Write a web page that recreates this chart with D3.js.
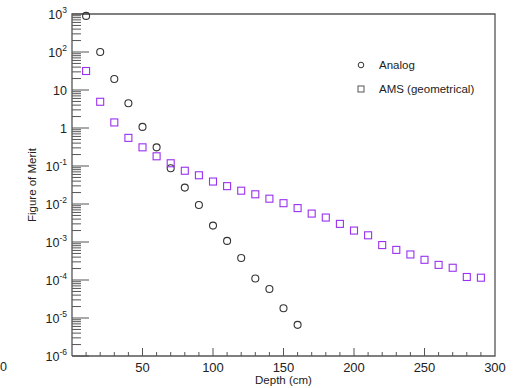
<!DOCTYPE html>
<html><head><meta charset="utf-8">
<script src="https://cdn.jsdelivr.net/npm/d3@7"></script>
<style>body{margin:0;background:#fff}svg{display:block}text{font-family:"Liberation Sans",Arial,sans-serif;fill:#222}</style>
</head><body><svg id="c" width="518" height="388"></svg>
<script>
const analogDepth = [10,20,30,40,50,60,70,80,90,100,110,120,130,140,150,160];
const analogFOM = [890,100,19.5,4.5,1.07,0.31,0.087,0.027,0.0094,0.0027,0.00107,0.00038,0.00011,5.8e-5,1.8e-5,6.6e-6];
const amsDepth = [10,20,30,40,50,60,70,80,90,100,110,120,130,140,150,160,170,180,190,200,210,220,230,240,250,260,270,280,290];
const amsFOM = [31.6,4.9,1.4,0.55,0.31,0.18,0.118,0.075,0.057,0.039,0.0295,0.0224,0.018,0.0138,0.0105,0.0078,0.0056,0.0044,0.0030,0.0020,0.0015,0.00083,0.00062,0.00047,0.00034,0.00025,0.00021,0.00012,0.000115];
const xTicks = [50,100,150,200,250,300];
const yTickExps = [3,2,1,0,-1,-2,-3,-4,-5,-6];
const legendLabels = ["Analog","AMS (geometrical)"];
const xTitle = "Depth (cm)", yTitle = "Figure of Merit";

const svg = d3.select("#c");
const L=72,R=495,T=14,B=356;
const x = d3.scaleLinear().domain([0,300]).range([L,R]);
const y = d3.scaleLog().domain([1e-6,1e3]).range([B,T]);
const axisCol="#555";
const g = svg.append("g");

// frame
g.append("path").attr("d",`M${L},${B}V${T}H${R}V${B}H${L}`).attr("fill","none").attr("stroke",axisCol).attr("stroke-width",1.3);

// x ticks
for(let v=10; v<300; v+=10){
  const major = v%50===0;
  g.append("line").attr("x1",x(v)).attr("x2",x(v)).attr("y1",B).attr("y2",B-(major?8:4)).attr("stroke",axisCol).attr("stroke-width",1);
}
g.selectAll(".xl").data(xTicks).enter().append("text").attr("x",d=>x(d)).attr("y",372).attr("text-anchor","middle").attr("font-size",13).text(d=>d);
svg.append("text").attr("x",0).attr("y",371).attr("font-size",12.5).text("0");

// y ticks
for(let e=-6;e<3;e++){
  for(let m=2;m<10;m++){
    const v=m*Math.pow(10,e);
    g.append("line").attr("x1",L).attr("x2",L+9).attr("y1",y(v)).attr("y2",y(v)).attr("stroke",axisCol).attr("stroke-width",1);
  }
}
yTickExps.forEach(e=>{
  const yy=y(Math.pow(10,e));
  g.append("line").attr("x1",L).attr("x2",L+17).attr("y1",yy).attr("y2",yy).attr("stroke",axisCol).attr("stroke-width",1);
  const t=g.append("text").attr("x",67).attr("y",yy+5).attr("text-anchor","end").attr("font-size",12.5);
  if(e===0) t.text("1");
  else if(e===1) t.text("10");
  else { t.append("tspan").text("10"); t.append("tspan").attr("dy",-6).attr("font-size",8.5).text(e); }
});

// titles
svg.append("text").attr("x",(L+R)/2).attr("y",384).attr("text-anchor","middle").attr("font-size",11.5).text(xTitle);
svg.append("text").attr("transform",`translate(36,${(T+B)/2}) rotate(-90)`).attr("text-anchor","middle").attr("font-size",11.5).text(yTitle);

// data
const circCol="#333", sqCol="#9a30f0";
g.selectAll(".c").data(analogDepth.map((d,i)=>[d,analogFOM[i]])).enter().append("circle")
  .attr("cx",d=>x(d[0])).attr("cy",d=>y(d[1])).attr("r",3.5).attr("fill","none").attr("stroke",circCol).attr("stroke-width",1.1);
g.selectAll(".s").data(amsDepth.map((d,i)=>[d,amsFOM[i]])).enter().append("rect")
  .attr("x",d=>x(d[0])-3.5).attr("y",d=>y(d[1])-3.5).attr("width",7).attr("height",7).attr("fill","none").attr("stroke",sqCol).attr("stroke-width",1.1);

// legend
svg.append("circle").attr("cx",361).attr("cy",65).attr("r",2.8).attr("fill","none").attr("stroke",circCol).attr("stroke-width",1);
svg.append("rect").attr("x",358).attr("y",86).attr("width",6).attr("height",6).attr("fill","none").attr("stroke","#555").attr("stroke-width",1);
svg.append("text").attr("x",379).attr("y",69).attr("font-size",11.5).text(legendLabels[0]);
svg.append("text").attr("x",379).attr("y",93).attr("font-size",11.5).text(legendLabels[1]);
</script></body></html>
